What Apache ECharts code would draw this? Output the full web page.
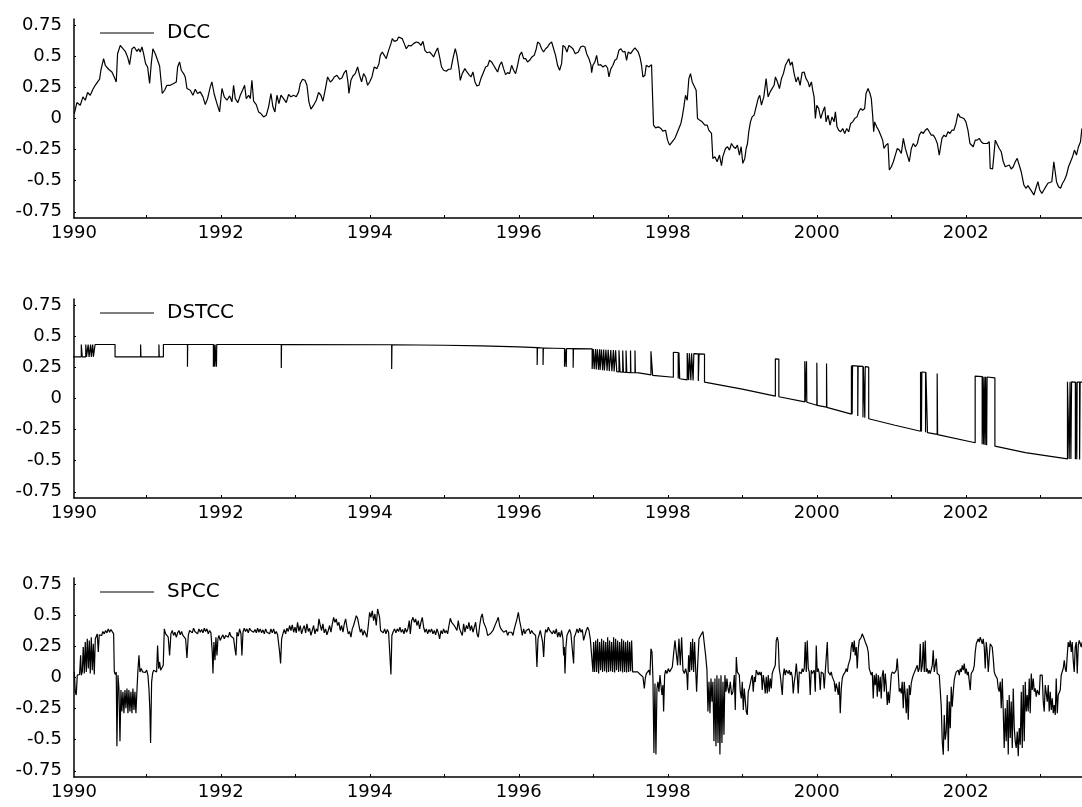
<!DOCTYPE html>
<html>
<head>
<meta charset="utf-8">
<script src="https://cdn.jsdelivr.net/npm/echarts@6/dist/echarts.min.js"></script>
<style>
  html, body { margin: 0; padding: 0; background: #fff; }
  #chart { width: 1082px; height: 807px; }
</style>
</head>
<body>
<div id="chart"></div>
<script>
// values: [year, correlation]
const dccPoints = [
  [1990.034,0.040],[1990.069,0.128],[1990.114,0.107],[1990.150,0.174],[1990.181,0.147],[1990.213,0.209],[1990.248,0.187],[1990.284,0.235],[1990.315,0.267],[1990.347,0.294],[1990.374,0.316],[1990.391,0.388],[1990.427,0.481],[1990.450,0.428],[1990.494,0.396],[1990.539,0.374],[1990.570,0.334],[1990.597,0.294],[1990.615,0.521],[1990.651,0.588],[1990.687,0.561],[1990.718,0.540],[1990.749,0.495],[1990.776,0.433],[1990.808,0.561],[1990.839,0.575],[1990.875,0.540],[1990.897,0.561],[1990.919,0.535],[1990.942,0.575],[1990.964,0.521],[1990.991,0.441],[1991.018,0.414],[1991.045,0.281],[1991.067,0.441],[1991.089,0.561],[1991.121,0.521],[1991.152,0.468],[1991.179,0.422],[1991.197,0.428],[1991.215,0.201],[1991.246,0.227],[1991.277,0.267],[1991.322,0.267],[1991.367,0.281],[1991.403,0.294],[1991.421,0.414],[1991.447,0.455],[1991.470,0.388],[1991.501,0.361],[1991.523,0.334],[1991.546,0.241],[1991.591,0.227],[1991.626,0.187],[1991.658,0.235],[1991.689,0.201],[1991.725,0.214],[1991.761,0.174],[1991.792,0.112],[1991.823,0.160],[1991.859,0.254],[1991.881,0.294],[1991.913,0.193],[1991.949,0.120],[1991.984,0.053],[1992.016,0.241],[1992.047,0.174],[1992.083,0.147],[1992.119,0.182],[1992.150,0.134],[1992.172,0.267],[1992.195,0.160],[1992.230,0.128],[1992.262,0.187],[1992.298,0.235],[1992.320,0.267],[1992.342,0.160],[1992.374,0.187],[1992.396,0.160],[1992.418,0.307],[1992.441,0.139],[1992.476,0.112],[1992.508,0.053],[1992.539,0.040],[1992.575,0.013],[1992.611,0.027],[1992.642,0.094],[1992.673,0.201],[1992.700,0.094],[1992.727,0.053],[1992.754,0.187],[1992.781,0.120],[1992.808,0.187],[1992.843,0.160],[1992.879,0.128],[1992.910,0.193],[1992.942,0.174],[1992.978,0.187],[1993.013,0.174],[1993.045,0.214],[1993.067,0.281],[1993.098,0.316],[1993.130,0.307],[1993.157,0.267],[1993.183,0.134],[1993.210,0.075],[1993.246,0.107],[1993.282,0.147],[1993.313,0.209],[1993.344,0.187],[1993.371,0.139],[1993.403,0.235],[1993.434,0.334],[1993.470,0.294],[1993.497,0.307],[1993.523,0.334],[1993.559,0.348],[1993.595,0.316],[1993.626,0.326],[1993.658,0.369],[1993.684,0.388],[1993.707,0.294],[1993.720,0.201],[1993.747,0.307],[1993.774,0.342],[1993.805,0.361],[1993.837,0.414],[1993.863,0.348],[1993.890,0.294],[1993.917,0.361],[1993.944,0.334],[1993.971,0.267],[1993.998,0.294],[1994.029,0.334],[1994.060,0.414],[1994.096,0.401],[1994.123,0.441],[1994.141,0.508],[1994.168,0.535],[1994.195,0.508],[1994.221,0.481],[1994.253,0.548],[1994.284,0.602],[1994.302,0.642],[1994.329,0.620],[1994.365,0.628],[1994.387,0.655],[1994.409,0.668],[1994.436,0.642],[1994.463,0.602],[1994.490,0.561],[1994.521,0.588],[1994.553,0.583],[1994.588,0.602],[1994.624,0.615],[1994.655,0.610],[1994.687,0.588],[1994.714,0.620],[1994.740,0.548],[1994.767,0.529],[1994.803,0.535],[1994.834,0.513],[1994.857,0.495],[1994.884,0.535],[1994.911,0.567],[1994.937,0.495],[1994.964,0.414],[1994.991,0.388],[1995.027,0.380],[1995.058,0.396],[1995.089,0.396],[1995.116,0.481],[1995.148,0.561],[1995.170,0.508],[1995.197,0.401],[1995.215,0.307],[1995.241,0.361],[1995.277,0.401],[1995.304,0.374],[1995.331,0.353],[1995.358,0.334],[1995.385,0.374],[1995.412,0.294],[1995.438,0.262],[1995.465,0.267],[1995.492,0.321],[1995.528,0.374],[1995.555,0.414],[1995.582,0.422],[1995.608,0.468],[1995.635,0.455],[1995.662,0.428],[1995.689,0.401],[1995.716,0.374],[1995.743,0.428],[1995.770,0.455],[1995.796,0.401],[1995.823,0.353],[1995.850,0.369],[1995.877,0.361],[1995.904,0.428],[1995.931,0.388],[1995.957,0.361],[1995.984,0.428],[1996.011,0.508],[1996.038,0.535],[1996.065,0.481],[1996.092,0.481],[1996.118,0.455],[1996.145,0.468],[1996.177,0.495],[1996.208,0.508],[1996.235,0.561],[1996.253,0.615],[1996.280,0.602],[1996.306,0.561],[1996.333,0.535],[1996.360,0.561],[1996.387,0.575],[1996.414,0.602],[1996.441,0.615],[1996.467,0.615],[1996.494,0.508],[1996.521,0.428],[1996.548,0.388],[1996.575,0.441],[1996.593,0.588],[1996.620,0.575],[1996.647,0.535],[1996.673,0.588],[1996.700,0.575],[1996.727,0.561],[1996.758,0.521],
  [1996.799,0.535],[1996.830,0.575],[1996.861,0.583],[1996.888,0.575],[1996.911,0.521],[1996.942,0.481],[1996.969,0.428],[1996.978,0.369],[1996.995,0.428],[1997.022,0.455],[1997.045,0.508],[1997.067,0.428],[1997.098,0.433],[1997.130,0.414],[1997.165,0.428],[1997.192,0.406],[1997.210,0.334],[1997.237,0.401],[1997.264,0.428],[1997.290,0.468],[1997.317,0.481],[1997.344,0.548],[1997.371,0.561],[1997.398,0.535],[1997.425,0.540],[1997.447,0.468],[1997.469,0.535],[1997.501,0.521],[1997.532,0.548],[1997.559,0.567],[1997.585,0.575],[1997.603,0.535],[1997.626,0.495],[1997.648,0.428],[1997.666,0.334],[1997.693,0.348],[1997.711,0.428],[1997.746,0.414],[1997.782,0.433],[1997.800,0.428],[1997.809,-0.053],[1997.836,-0.075],[1997.872,-0.067],[1997.907,-0.080],[1997.934,-0.102],[1997.970,-0.094],[1997.997,-0.174],[1998.024,-0.214],[1998.059,-0.187],[1998.095,-0.160],[1998.122,-0.120],[1998.149,-0.080],[1998.176,-0.040],[1998.194,0.013],[1998.216,0.094],[1998.238,0.187],[1998.261,0.147],[1998.283,0.321],[1998.305,0.361],[1998.328,0.294],[1998.350,0.281],[1998.381,0.227],[1998.399,0.000],[1998.426,-0.013],[1998.462,-0.027],[1998.497,-0.053],[1998.529,-0.053],[1998.551,-0.094],[1998.587,-0.120],[1998.605,-0.321],[1998.632,-0.307],[1998.663,-0.348],[1998.694,-0.294],[1998.721,-0.380],[1998.739,-0.307],[1998.775,-0.241],[1998.802,-0.227],[1998.828,-0.254],[1998.855,-0.201],[1998.882,-0.227],[1998.909,-0.241],[1998.935,-0.214],[1998.962,-0.294],[1998.985,-0.227],[1999.007,-0.361],[1999.034,-0.321],[1999.052,-0.241],[1999.070,-0.201],[1999.087,-0.107],[1999.110,-0.027],[1999.132,0.013],[1999.159,0.027],[1999.186,0.094],[1999.213,0.160],[1999.235,0.187],[1999.257,0.107],[1999.289,0.174],[1999.320,0.321],[1999.347,0.174],[1999.374,0.214],[1999.400,0.227],[1999.427,0.267],[1999.445,0.334],[1999.472,0.294],[1999.499,0.241],[1999.526,0.321],[1999.552,0.361],[1999.579,0.428],[1999.602,0.455],[1999.624,0.481],[1999.646,0.428],[1999.669,0.455],[1999.696,0.361],[1999.722,0.294],[1999.749,0.334],[1999.776,0.267],[1999.803,0.369],[1999.830,0.374],[1999.856,0.321],[1999.883,0.294],[1999.901,0.254],[1999.928,0.294],[1999.946,0.227],[1999.964,0.174],[1999.981,0.000],[2000.000,0.107],[2000.026,0.080],[2000.053,0.000],[2000.080,0.053],[2000.107,0.094],[2000.125,-0.027],[2000.151,0.027],[2000.178,-0.053],[2000.205,0.013],[2000.232,-0.027],[2000.250,0.053],[2000.272,-0.067],[2000.294,-0.094],[2000.321,-0.107],[2000.348,-0.080],[2000.375,-0.120],[2000.402,-0.080],[2000.428,-0.107],[2000.455,-0.040],[2000.482,-0.027],[2000.509,0.000],[2000.540,0.013],[2000.563,0.053],[2000.589,0.080],[2000.616,0.067],[2000.643,0.080],[2000.661,0.201],[2000.688,0.241],[2000.714,0.201],[2000.732,0.160],[2000.750,0.027],[2000.764,-0.107],[2000.777,-0.027],[2000.804,-0.067],[2000.831,-0.094],[2000.858,-0.134],[2000.884,-0.174],[2000.902,-0.241],[2000.929,-0.214],[2000.956,-0.201],[2000.974,-0.414],[2001.001,-0.388],[2001.028,-0.348],[2001.054,-0.294],[2001.081,-0.241],[2001.108,-0.254],[2001.135,-0.281],[2001.162,-0.160],[2001.189,-0.241],[2001.215,-0.294],[2001.242,-0.348],[2001.269,-0.241],[2001.296,-0.201],[2001.323,-0.227],[2001.350,-0.201],[2001.376,-0.134],[2001.403,-0.107],[2001.430,-0.120],[2001.457,-0.094],[2001.484,-0.080],[2001.510,-0.107],[2001.537,-0.134],[2001.564,-0.134],[2001.591,-0.160],[2001.618,-0.201],[2001.644,-0.294],[2001.662,-0.227],[2001.680,-0.160],[2001.707,-0.134],[2001.734,-0.147],[2001.761,-0.107],[2001.788,-0.120],[2001.814,-0.094],[2001.841,-0.094],[2001.868,-0.040],[2001.895,0.040],[2001.922,0.013],[2001.948,0.027],[2001.975,0.000],[2002.002,-0.027],[2002.029,-0.094],[2002.056,-0.201],[2002.074,-0.187],[2002.100,-0.227],[2002.127,-0.174],[2002.154,-0.174],[2002.181,-0.160],[2002.208,-0.187],[2002.235,-0.201],[2002.261,-0.187],[2002.288,-0.201],[2002.315,-0.187],[2002.328,-0.401],[2002.360,-0.406],[2002.378,-0.414],[2002.396,-0.174],[2002.422,-0.187],[2002.449,-0.241],[2002.476,-0.267],[2002.503,-0.348],[2002.530,-0.388],[2002.556,-0.401],[2002.583,-0.374],[2002.610,-0.406],[2002.637,-0.388],[2002.664,-0.348],[2002.690,-0.321],[2002.717,-0.374],[2002.744,-0.428],[2002.762,-0.481],[2002.780,-0.535],[2002.807,-0.561],[2002.834,-0.540],[2002.860,-0.535],[2002.887,-0.588],[2002.914,-0.615],[2002.941,-0.561],[2002.968,-0.508],[2002.994,-0.575],[2003.021,-0.602],[2003.048,-0.575],[2003.075,-0.548],[2003.102,-0.521],[2003.128,-0.535],[2003.155,-0.508],[2003.182,-0.348],[2003.200,-0.428],[2003.218,-0.508],[2003.245,-0.548],[2003.272,-0.561],[2003.299,-0.521],[2003.325,-0.495],[2003.352,-0.455],[2003.379,-0.388],[2003.406,-0.348],[2003.433,-0.307],[2003.459,-0.254],[2003.486,-0.294],[2003.513,-0.227],[2003.540,-0.187],[2003.558,-0.080]
];

// regime switching series: repeated years draw the vertical jumps
const dstccPoints = [
  [1990.000,0.335],[1990.128,0.335],[1990.128,0.434],[1990.140,0.434],[1990.140,0.335],[1990.188,0.335],[1990.188,0.434],[1990.198,0.434],[1990.198,0.335],[1990.220,0.335],[1990.220,0.434],[1990.232,0.434],[1990.232,0.335],[1990.253,0.335],[1990.253,0.434],[1990.262,0.434],[1990.262,0.335],[1990.281,0.335],[1990.281,0.434],[1990.290,0.434],[1990.290,0.335],[1990.313,0.335],[1990.313,0.434],[1990.581,0.434],[1990.581,0.335],[1990.924,0.335],[1990.924,0.434],[1990.928,0.434],[1990.928,0.335],[1991.170,0.335],[1991.170,0.434],[1991.174,0.434],[1991.174,0.335],[1991.230,0.335],[1991.230,0.434],
  [1991.553,0.434],[1991.553,0.255],[1991.556,0.434],
  [1991.901,0.434],[1991.901,0.255],[1991.905,0.434],[1991.919,0.434],[1991.919,0.255],[1991.923,0.434],[1991.942,0.434],[1991.942,0.255],[1991.946,0.434],
  [1992.812,0.434],[1992.812,0.246],[1992.816,0.434],
  [1994.294,0.432],[1994.294,0.238],[1994.298,0.432],
  [1995.000,0.428],[1995.500,0.423],[1996.000,0.415],
  [1996.247,0.409],[1996.247,0.270],[1996.251,0.409],
  [1996.326,0.406],[1996.326,0.270],[1996.330,0.406],
  [1996.614,0.402],[1996.614,0.255],[1996.620,0.255],[1996.620,0.402],[1996.637,0.402],[1996.637,0.254],[1996.641,0.402],
  [1996.730,0.401],[1996.730,0.247],[1996.734,0.401],
  [1996.985,0.399],[1996.985,0.238],[1997.000,0.237],[1997.000,0.398],[1997.012,0.398],[1997.012,0.236],[1997.030,0.235],[1997.030,0.397],[1997.040,0.397],[1997.040,0.234],[1997.055,0.233],[1997.055,0.396],[1997.070,0.396],[1997.070,0.232],[1997.085,0.231],[1997.085,0.395],[1997.092,0.395],[1997.092,0.230],[1997.110,0.229],[1997.110,0.394],[1997.125,0.394],[1997.125,0.228],[1997.140,0.227],[1997.140,0.393],[1997.150,0.393],[1997.150,0.226],[1997.170,0.225],[1997.170,0.392],[1997.185,0.392],[1997.185,0.224],[1997.200,0.223],[1997.200,0.391],[1997.215,0.391],[1997.215,0.222],[1997.235,0.221],[1997.235,0.390],[1997.250,0.390],[1997.250,0.220],[1997.270,0.219],[1997.270,0.389],[1997.280,0.389],[1997.280,0.218],[1997.300,0.217],[1997.300,0.388],[1997.315,0.388],[1997.315,0.216],[1997.345,0.214],[1997.345,0.387],[1997.360,0.387],[1997.360,0.213],[1997.395,0.212],[1997.395,0.386],[1997.405,0.386],[1997.405,0.211],[1997.440,0.210],[1997.440,0.386],[1997.450,0.386],[1997.450,0.209],[1997.500,0.208],[1997.500,0.385],[1997.505,0.385],[1997.505,0.207],[1997.560,0.207],[1997.560,0.385],[1997.565,0.385],[1997.565,0.207],[1997.611,0.206],
  [1997.774,0.190],[1997.774,0.380],[1997.797,0.380],[1997.797,0.186],
  [1998.075,0.171],[1998.075,0.372],[1998.140,0.370],[1998.140,0.160],[1998.150,0.160],[1998.150,0.370],[1998.160,0.369],[1998.160,0.159],[1998.261,0.150],[1998.261,0.366],[1998.280,0.365],[1998.280,0.148],[1998.290,0.148],[1998.290,0.364],[1998.310,0.364],[1998.310,0.146],[1998.320,0.146],[1998.320,0.363],[1998.340,0.362],[1998.340,0.144],[1998.350,0.144],[1998.350,0.361],[1998.410,0.359],[1998.410,0.140],[1998.420,0.140],[1998.420,0.359],[1998.493,0.356],[1998.493,0.131],
  [1999.000,0.075],
  [1999.444,0.019],[1999.444,0.319],[1999.491,0.317],[1999.491,0.014],
  [1999.839,-0.027],[1999.839,0.300],[1999.845,0.300],[1999.845,-0.028],[1999.862,-0.030],[1999.862,0.299],[1999.866,0.299],[1999.866,-0.030],
  [2000.001,-0.054],[2000.001,0.287],[2000.005,0.287],[2000.005,-0.055],
  [2000.131,-0.070],[2000.131,0.281],[2000.135,0.281],[2000.135,-0.071],
  [2000.465,-0.125],[2000.465,0.265],[2000.475,0.265],[2000.475,-0.127],[2000.480,-0.127],[2000.480,0.264],[2000.550,0.261],[2000.550,-0.140],[2000.555,-0.140],[2000.555,0.261],[2000.620,0.258],[2000.620,-0.150],[2000.625,-0.150],[2000.625,0.258],[2000.645,0.257],[2000.645,-0.155],[2000.650,-0.155],[2000.650,0.256],[2000.697,0.252],[2000.697,-0.163],
  [2001.050,-0.215],
  [2001.393,-0.263],[2001.393,0.214],[2001.405,0.213],[2001.405,-0.265],[2001.410,-0.265],[2001.410,0.213],[2001.460,0.211],[2001.460,-0.272],[2001.465,-0.272],[2001.465,0.211],[2001.486,0.210],[2001.486,-0.275],
  [2001.616,-0.289],[2001.616,0.201],[2001.622,0.201],[2001.622,-0.290],
  [2002.126,-0.356],[2002.126,0.180],[2002.220,0.176],[2002.220,-0.368],[2002.226,-0.368],[2002.226,0.176],[2002.240,0.175],[2002.240,-0.370],[2002.246,-0.370],[2002.246,0.175],[2002.260,0.174],[2002.260,-0.373],[2002.266,-0.373],[2002.266,0.174],[2002.280,0.173],[2002.280,-0.375],[2002.286,-0.375],[2002.286,0.173],[2002.391,0.166],[2002.391,-0.383],
  [2002.800,-0.435],
  [2003.365,-0.485],[2003.365,0.134],[2003.388,0.134],[2003.388,-0.486],[2003.400,-0.486],[2003.400,0.134],[2003.411,0.134],[2003.411,-0.487],[2003.420,-0.487],[2003.420,0.133],[2003.471,0.132],[2003.471,-0.488],[2003.476,-0.488],[2003.476,0.132],[2003.490,0.132],[2003.490,-0.489],[2003.495,-0.489],[2003.495,0.132],[2003.528,0.131],[2003.528,-0.490],[2003.535,-0.490],[2003.535,0.131],[2003.565,0.131]
];

const spccPoints = [
  [1990.034,0.045],[1990.047,-0.114],[1990.060,-0.141],[1990.074,0.019],[1990.092,0.032],[1990.105,0.024],[1990.119,0.178],[1990.128,0.019],[1990.141,0.045],[1990.154,0.245],[1990.168,0.032],[1990.181,0.285],[1990.195,0.045],[1990.208,0.311],[1990.222,0.072],[1990.235,0.298],[1990.248,0.032],[1990.262,0.324],[1990.275,0.059],[1990.289,0.271],[1990.302,0.024],[1990.316,0.311],[1990.329,0.324],[1990.342,0.351],[1990.356,0.205],[1990.369,0.343],[1990.383,0.359],[1990.401,0.338],[1990.418,0.370],[1990.436,0.351],[1990.454,0.378],[1990.472,0.359],[1990.490,0.391],[1990.508,0.364],[1990.526,0.386],[1990.544,0.370],[1990.562,0.351],[1990.571,0.045],[1990.584,0.024],[1990.597,0.045],[1990.606,-0.553],[1990.620,0.019],[1990.633,-0.088],[1990.647,-0.513],[1990.660,-0.101],[1990.673,-0.274],[1990.687,-0.114],[1990.700,-0.287],[1990.714,-0.101],[1990.727,-0.247],[1990.741,-0.088],[1990.754,-0.287],[1990.767,-0.101],[1990.781,-0.274],[1990.794,-0.114],[1990.808,-0.287],[1990.821,-0.088],[1990.835,-0.261],[1990.848,-0.114],[1990.861,-0.287],[1990.875,-0.101],[1990.888,0.059],[1990.902,0.178],[1990.915,0.045],[1990.933,0.072],[1990.951,0.045],[1990.969,0.059],[1990.987,0.040],[1991.005,0.059],[1991.022,0.019],[1991.036,-0.088],[1991.049,-0.274],[1991.058,-0.527],[1991.072,-0.035],[1991.085,0.032],[1991.099,0.059],[1991.112,0.045],[1991.125,0.072],[1991.139,0.045],[1991.152,0.258],[1991.166,0.072],[1991.179,0.125],[1991.193,0.059],[1991.210,0.045],[1991.228,0.098],[1991.242,0.391],[1991.260,0.351],[1991.278,0.364],[1991.295,0.324],[1991.313,0.178],[1991.331,0.351],[1991.349,0.378],[1991.367,0.338],[1991.385,0.364],[1991.403,0.324],[1991.421,0.359],[1991.439,0.378],[1991.456,0.343],[1991.474,0.370],[1991.492,0.338],[1991.510,0.351],[1991.528,0.311],[1991.546,0.157],[1991.564,0.338],[1991.582,0.378],[1991.600,0.391],[1991.618,0.359],[1991.635,0.396],[1991.653,0.370],[1991.671,0.386],[1991.689,0.351],[1991.707,0.391],[1991.725,0.364],[1991.743,0.386],[1991.761,0.359],[1991.779,0.396],[1991.796,0.370],[1991.814,0.391],[1991.832,0.351],[1991.850,0.378],[1991.868,0.359],[1991.886,0.205],[1991.895,0.032],[1991.908,0.285],[1991.922,0.138],[1991.935,0.324],[1991.949,0.178],[1991.962,0.311],[1991.975,0.338],[1991.993,0.298],[1992.011,0.324],[1992.029,0.343],[1992.047,0.311],[1992.065,0.338],[1992.083,0.351],[1992.101,0.324],[1992.119,0.364],[1992.137,0.332],[1992.154,0.343],[1992.172,0.316],[1992.190,0.231],[1992.204,0.178],[1992.217,0.364],[1992.235,0.332],[1992.253,0.391],[1992.271,0.351],[1992.284,0.178],[1992.298,0.364],[1992.315,0.396],[1992.333,0.370],[1992.351,0.391],[1992.369,0.359],[1992.387,0.396],[1992.405,0.378],[1992.423,0.391],[1992.441,0.364],[1992.459,0.386],[1992.477,0.359],[1992.494,0.396],[1992.512,0.364],[1992.530,0.391],[1992.548,0.359],[1992.566,0.383],[1992.584,0.351],[1992.602,0.391],[1992.620,0.364],[1992.638,0.378],[1992.656,0.351],[1992.673,0.391],[1992.691,0.359],[1992.709,0.391],[1992.727,0.351],[1992.745,0.370],[1992.763,0.343],[1992.781,0.338],[1992.790,0.205],[1992.803,0.112],[1992.817,0.311],[1992.834,0.351],[1992.852,0.386],[1992.870,0.351],[1992.888,0.396],[1992.906,0.370],[1992.924,0.418],[1992.942,0.378],[1992.960,0.423],[1992.978,0.364],[1992.996,0.404],[1993.013,0.359],[1993.031,0.444],[1993.049,0.370],[1993.067,0.418],[1993.085,0.351],[1993.103,0.391],[1993.121,0.418],[1993.139,0.359],[1993.157,0.431],[1993.175,0.370],[1993.192,0.396],[1993.210,0.338],[1993.228,0.378],[1993.246,0.418],[1993.264,0.351],[1993.282,0.391],[1993.300,0.370],[1993.318,0.471],[1993.336,0.418],[1993.353,0.378],[1993.371,0.431],[1993.389,0.359],[1993.407,0.391],[1993.425,0.343],[1993.443,0.378],[1993.461,0.418],[1993.479,0.364],[1993.497,0.431],[1993.515,0.484],[1993.532,0.444],[1993.550,0.471],[1993.568,0.418],[1993.586,0.444],[1993.604,0.378],[1993.622,0.418],[1993.640,0.364],[1993.658,0.431],[1993.676,0.471],[1993.694,0.404],[1993.711,0.351],[1993.729,0.370],[1993.747,0.324],[1993.765,0.391],[1993.783,0.418],[1993.801,0.457],[1993.819,0.497],[1993.837,0.476],[1993.855,0.418],[1993.873,0.364],[1993.890,0.391],[1993.908,0.338],[1993.926,0.378],[1993.944,0.351],[1993.962,0.324],[1993.980,0.418],[1993.998,0.524],[1994.016,0.484],[1994.034,0.537],[1994.051,0.457],[1994.069,0.511],[1994.087,0.418],[1994.105,0.551],[1994.119,0.564],[1994.132,0.484],[1994.145,0.378],[1994.163,0.391],[1994.181,0.359],[1994.199,0.391],[1994.217,0.351],[1994.235,0.386],[1994.253,0.364],[1994.271,0.351],[1994.284,0.024],[1994.297,0.338],[1994.315,0.370],[1994.333,0.391],[1994.351,0.359],[1994.369,0.391],[1994.387,0.370],[1994.405,0.404],[1994.423,0.364],[1994.441,0.386],[1994.459,0.351],[1994.476,0.396],[1994.494,0.364],[1994.512,0.391],[1994.530,0.457],
  [1994.544,0.351],[1994.562,0.457],[1994.580,0.484],[1994.598,0.444],[1994.616,0.471],[1994.633,0.418],[1994.651,0.457],[1994.669,0.391],[1994.687,0.444],[1994.705,0.484],[1994.723,0.404],[1994.741,0.364],[1994.759,0.391],[1994.777,0.351],[1994.795,0.386],[1994.812,0.364],[1994.830,0.391],[1994.848,0.351],[1994.866,0.378],[1994.884,0.343],[1994.902,0.391],[1994.920,0.359],[1994.938,0.311],[1994.956,0.378],[1994.974,0.351],[1994.991,0.391],[1995.009,0.359],[1995.027,0.378],[1995.045,0.351],[1995.063,0.418],[1995.081,0.476],[1995.099,0.444],[1995.117,0.457],[1995.135,0.418],[1995.152,0.431],[1995.170,0.378],[1995.188,0.457],[1995.206,0.391],[1995.224,0.404],[1995.242,0.338],[1995.260,0.431],[1995.278,0.364],[1995.296,0.418],[1995.314,0.391],[1995.331,0.444],[1995.349,0.378],[1995.367,0.418],[1995.385,0.364],[1995.403,0.404],[1995.421,0.444],[1995.439,0.351],[1995.457,0.324],[1995.475,0.418],[1995.493,0.484],[1995.510,0.511],[1995.528,0.444],[1995.546,0.431],[1995.564,0.391],[1995.582,0.338],[1995.600,0.324],[1995.618,0.351],[1995.636,0.338],[1995.654,0.378],[1995.671,0.404],[1995.689,0.431],[1995.707,0.457],[1995.725,0.484],[1995.743,0.418],[1995.761,0.391],[1995.779,0.378],[1995.797,0.364],[1995.815,0.351],[1995.833,0.378],[1995.850,0.338],[1995.868,0.364],[1995.886,0.351],[1995.904,0.364],[1995.922,0.338],[1995.940,0.391],[1995.958,0.431],[1995.976,0.471],[1995.994,0.524],[1996.011,0.457],[1996.029,0.404],[1996.047,0.338],[1996.065,0.391],[1996.083,0.351],[1996.101,0.378],[1996.119,0.364],[1996.137,0.391],[1996.155,0.351],[1996.173,0.378],[1996.190,0.359],[1996.208,0.364],[1996.226,0.338],[1996.235,0.324],[1996.244,0.085],[1996.258,0.311],[1996.271,0.324],[1996.289,0.378],[1996.307,0.324],[1996.320,0.285],[1996.334,0.165],[1996.347,0.324],[1996.360,0.386],[1996.378,0.364],[1996.396,0.404],[1996.414,0.378],[1996.432,0.391],[1996.450,0.351],[1996.468,0.378],[1996.486,0.351],[1996.504,0.391],[1996.522,0.324],[1996.539,0.364],[1996.557,0.324],[1996.575,0.378],[1996.593,0.311],[1996.602,0.178],[1996.611,0.245],[1996.620,0.032],[1996.633,0.245],[1996.647,0.338],[1996.665,0.364],[1996.683,0.386],[1996.700,0.351],[1996.718,0.364],[1996.736,0.112],[1996.745,0.324],[1996.763,0.351],[1996.781,0.391],[1996.799,0.359],[1996.817,0.396],[1996.835,0.364],[1996.853,0.386],[1996.870,0.298],[1996.888,0.338],[1996.906,0.378],[1996.924,0.404],[1996.942,0.378],[1996.960,0.311],[1996.978,0.298],[1996.996,0.045],[1997.005,0.285],[1997.018,0.045],[1997.032,0.298],[1997.045,0.045],[1997.058,0.311],[1997.072,0.032],[1997.085,0.285],[1997.099,0.059],[1997.112,0.311],[1997.125,0.045],[1997.139,0.298],[1997.152,0.051],[1997.166,0.285],[1997.179,0.040],[1997.193,0.324],[1997.206,0.045],[1997.219,0.298],[1997.233,0.051],[1997.246,0.285],[1997.260,0.045],[1997.273,0.324],[1997.287,0.040],[1997.300,0.311],[1997.313,0.059],[1997.327,0.298],[1997.340,0.045],[1997.354,0.285],[1997.367,0.051],[1997.381,0.311],[1997.394,0.040],[1997.407,0.298],[1997.421,0.045],[1997.434,0.285],[1997.448,0.040],[1997.461,0.298],[1997.475,0.045],[1997.488,0.285],[1997.501,0.051],[1997.515,0.298],[1997.528,0.045],[1997.542,0.059],[1997.560,0.045],[1997.577,0.032],[1997.595,0.045],[1997.613,0.040],[1997.631,0.024],[1997.649,0.019],[1997.667,0.005],[1997.685,-0.088],[1997.698,-0.008],[1997.712,0.032],[1997.729,0.045],[1997.747,0.059],[1997.761,0.019],[1997.774,0.231],[1997.788,0.205],[1997.801,-0.008],[1997.814,-0.606],[1997.828,-0.048],[1997.841,-0.620],[1997.855,-0.088],[1997.868,-0.035],[1997.882,-0.114],[1997.895,0.019],[1997.908,-0.061],[1997.922,-0.141],[1997.935,-0.061],[1997.944,-0.274],[1997.958,0.019],[1997.971,0.059],[1997.989,0.032],[1998.007,0.072],[1998.025,0.045],[1998.043,0.059],[1998.061,0.085],[1998.078,0.072],[1998.096,0.298],[1998.114,0.285],[1998.132,0.098],[1998.150,0.311],[1998.168,0.098],[1998.186,0.324],[1998.204,0.059],[1998.222,0.032],[1998.240,0.072],[1998.257,0.019],[1998.266,-0.101],[1998.280,0.178],[1998.293,0.045],[1998.307,0.285],[1998.320,0.059],[1998.333,0.311],[1998.347,0.045],[1998.360,0.285],[1998.374,0.072],[1998.387,-0.114],[1998.401,0.098],[1998.419,0.311],[1998.436,0.324],[1998.454,0.351],[1998.472,0.370],[1998.490,0.378],[1998.508,0.178],[1998.526,0.059],[1998.539,-0.274],[1998.553,-0.035],[1998.566,-0.287],[1998.580,-0.008],[1998.593,-0.194],[1998.606,-0.035],[1998.620,-0.513],[1998.633,-0.008],[1998.647,-0.553],[1998.660,0.019],[1998.674,-0.527],[1998.687,-0.008],[1998.700,-0.620],[1998.714,0.019],[1998.727,-0.527],[1998.741,-0.035],[1998.754,-0.460],[1998.767,0.019],[1998.781,-0.114],[1998.794,-0.008],[1998.808,-0.088],[1998.821,-0.128],[1998.839,-0.035],[1998.857,-0.141],[1998.875,-0.114],[1998.893,0.019],[1998.906,-0.261],[1998.920,0.165],[1998.933,0.045],[1998.946,0.059],[1998.960,0.019],[1998.973,-0.114],[1998.987,-0.168],[1999.000,-0.035],[1999.014,-0.261],[1999.027,-0.088],
  [1999.040,-0.101],[1999.053,-0.274],[1999.067,-0.301],[1999.080,-0.114],[1999.094,-0.088],[1999.107,-0.101],[1999.121,-0.008],[1999.134,0.019],[1999.147,-0.114],[1999.161,0.005],[1999.174,-0.035],[1999.188,0.059],[1999.201,0.072],[1999.214,0.019],[1999.228,0.045],[1999.241,0.019],[1999.255,0.045],[1999.268,-0.101],[1999.282,0.019],[1999.295,-0.035],[1999.308,-0.128],[1999.322,0.005],[1999.335,-0.128],[1999.349,0.019],[1999.362,-0.114],[1999.376,-0.008],[1999.389,-0.088],[1999.402,0.032],[1999.416,0.059],[1999.429,0.045],[1999.443,0.098],[1999.456,0.298],[1999.470,0.324],[1999.483,0.285],[1999.496,0.072],[1999.510,0.019],[1999.523,0.032],[1999.537,-0.141],[1999.550,0.019],[1999.563,0.072],[1999.577,0.019],[1999.590,0.059],[1999.604,0.045],[1999.617,0.032],[1999.631,0.059],[1999.644,0.019],[1999.657,0.045],[1999.671,0.005],[1999.684,-0.128],[1999.698,-0.035],[1999.711,0.019],[1999.725,0.112],[1999.738,0.019],[1999.751,-0.128],[1999.765,0.045],[1999.778,0.059],[1999.792,0.032],[1999.805,0.072],[1999.818,0.045],[1999.832,0.072],[1999.845,0.285],[1999.859,0.045],[1999.872,0.298],[1999.886,0.072],[1999.899,0.045],[1999.912,-0.141],[1999.926,0.059],[1999.939,0.032],[1999.953,0.045],[1999.966,0.059],[1999.980,-0.114],[1999.993,0.258],[2000.006,0.045],[2000.020,0.072],[2000.033,0.032],[2000.047,-0.101],[2000.060,0.045],[2000.074,0.059],[2000.087,0.032],[2000.100,-0.088],[2000.114,0.045],[2000.127,0.059],[2000.141,0.285],[2000.154,0.045],[2000.167,0.059],[2000.181,0.019],[2000.194,0.045],[2000.208,0.005],[2000.221,0.019],[2000.235,-0.035],[2000.248,-0.114],[2000.261,-0.048],[2000.275,-0.088],[2000.288,-0.141],[2000.302,-0.035],[2000.315,-0.287],[2000.329,-0.088],[2000.342,-0.008],[2000.355,0.019],[2000.369,0.032],[2000.382,0.045],[2000.396,0.072],[2000.409,0.045],[2000.422,0.098],[2000.436,0.085],[2000.449,0.152],[2000.463,0.245],[2000.476,0.285],[2000.490,0.205],[2000.503,0.298],[2000.516,0.178],[2000.530,0.245],[2000.543,0.072],[2000.557,0.231],[2000.570,0.298],[2000.584,0.311],[2000.597,0.324],[2000.610,0.351],[2000.624,0.338],[2000.637,0.311],[2000.651,0.285],[2000.664,0.298],[2000.677,0.245],[2000.691,0.205],[2000.704,0.072],[2000.718,0.045],[2000.731,0.019],[2000.745,0.045],[2000.758,-0.168],[2000.771,0.019],[2000.785,-0.061],[2000.798,0.032],[2000.812,-0.154],[2000.825,0.019],[2000.839,-0.114],[2000.852,0.005],[2000.865,-0.168],[2000.879,0.019],[2000.892,0.059],[2000.906,-0.114],[2000.919,0.032],[2000.932,-0.061],[2000.946,-0.221],[2000.959,-0.114],[2000.973,-0.207],[2000.986,-0.101],[2001.000,0.019],[2001.013,0.045],[2001.026,0.059],[2001.040,0.032],[2001.053,0.045],[2001.067,0.059],[2001.080,0.152],[2001.094,0.032],[2001.107,-0.114],[2001.120,-0.088],[2001.134,-0.128],[2001.147,-0.035],[2001.161,-0.247],[2001.174,-0.035],[2001.188,-0.141],[2001.201,-0.287],[2001.214,-0.088],[2001.228,-0.340],[2001.241,-0.061],[2001.255,-0.141],[2001.268,-0.048],[2001.282,-0.008],[2001.295,0.019],[2001.308,0.032],[2001.322,0.059],[2001.335,0.045],[2001.349,0.098],[2001.362,0.045],[2001.376,0.072],[2001.389,0.271],[2001.402,0.045],[2001.416,0.098],[2001.429,0.285],[2001.443,0.045],[2001.456,0.298],[2001.469,0.045],[2001.483,0.072],[2001.496,0.032],[2001.510,0.059],[2001.523,0.032],[2001.537,0.045],[2001.550,0.098],[2001.563,0.218],[2001.577,0.045],[2001.590,0.059],[2001.604,0.152],[2001.617,0.032],[2001.630,0.045],[2001.644,0.019],[2001.657,-0.101],[2001.671,-0.234],[2001.684,-0.513],[2001.698,-0.620],[2001.711,-0.301],[2001.724,-0.500],[2001.738,-0.434],[2001.751,-0.141],[2001.765,-0.593],[2001.778,-0.194],[2001.792,-0.407],[2001.805,-0.074],[2001.818,-0.234],[2001.832,-0.114],[2001.845,-0.021],[2001.859,0.019],[2001.872,0.045],[2001.886,0.032],[2001.899,0.059],[2001.912,0.019],[2001.926,0.072],[2001.939,0.045],[2001.953,0.098],[2001.966,0.059],[2001.980,0.112],[2001.993,0.032],[2002.006,0.072],[2002.020,0.019],[2002.033,0.045],[2002.047,0.059],[2002.060,-0.101],[2002.073,0.032],[2002.087,0.045],[2002.100,0.059],[2002.114,0.098],[2002.127,0.205],[2002.141,0.271],[2002.154,0.285],[2002.167,0.311],[2002.181,0.285],[2002.194,0.324],[2002.208,0.298],[2002.221,0.271],[2002.234,0.311],[2002.248,0.245],[2002.261,0.072],[2002.275,0.285],[2002.288,0.205],[2002.302,0.045],[2002.315,0.165],[2002.328,0.271],[2002.342,0.285],[2002.355,0.245],[2002.369,0.152],[2002.382,0.045],[2002.396,0.019],[2002.409,0.005],[2002.422,-0.008],[2002.436,-0.088],[2002.449,-0.114],[2002.463,-0.035],[2002.476,-0.247],[2002.490,-0.008],[2002.503,-0.274],[2002.516,-0.566],[2002.530,-0.247],[2002.543,-0.513],[2002.557,-0.181],[2002.570,-0.620],[2002.583,-0.141],[2002.597,-0.487],[2002.610,-0.194],[2002.624,-0.566],[2002.637,-0.088],[2002.651,-0.407],[2002.664,-0.513],[2002.677,-0.566],[2002.691,-0.434],[2002.704,-0.633],[2002.718,-0.407],[2002.731,-0.540],[2002.745,-0.114],[2002.758,-0.566],[2002.771,-0.061],[2002.785,-0.513],[2002.798,-0.035],[2002.812,-0.274],[2002.825,-0.141],[2002.838,-0.274],[2002.852,-0.008],[2002.865,-0.287],[2002.879,0.032],[2002.892,-0.101],[2002.906,-0.008],[2002.919,-0.114],[2002.932,-0.088],[2002.946,-0.154],[2002.959,-0.101],[2002.973,-0.114],[2002.986,-0.141],[2002.999,0.019],[2003.013,0.005],[2003.026,0.019],[2003.040,-0.194],[2003.053,-0.274],[2003.067,-0.061],[2003.080,-0.061],[2003.094,-0.194],[2003.107,-0.061],[2003.120,-0.274],[2003.134,-0.114],[2003.147,-0.261],[2003.161,-0.168],[2003.174,-0.287],[2003.187,-0.221],[2003.201,-0.301],[2003.214,-0.008],[2003.228,-0.287],[2003.241,-0.141],[2003.255,-0.128],[2003.268,-0.101],[2003.281,0.019],[2003.295,0.032],[2003.308,0.072],[2003.322,0.138],[2003.335,0.072],[2003.348,0.045],[2003.362,0.178],[2003.375,0.285],[2003.389,0.245],[2003.402,0.298],[2003.416,0.205],[2003.429,0.285],[2003.442,0.138],[2003.456,0.045],[2003.469,0.245],[2003.483,0.285],[2003.496,0.032],[2003.510,0.258],[2003.523,0.298],[2003.536,0.285],[2003.550,0.245],[2003.563,0.285]
];

const seriesNames = ['DCC', 'DSTCC', 'SPCC'];
const yTicks = [-0.75, -0.5, -0.25, 0, 0.25, 0.5, 0.75];
const yearTicks = [1991, 1992, 1993, 1994, 1995, 1996, 1997, 1998, 1999, 2000, 2001, 2002, 2003];
const yearLabels = [1990.03, 1992, 1994, 1996, 1998, 2000, 2002];

const chart = echarts.init(document.getElementById('chart'), null, { renderer: 'canvas' });

const FONT = 'DejaVu Sans';
const panelTops = [19, 299, 578];
const panelData = [dccPoints, dstccPoints, spccPoints];

const option = {
  animation: false,
  backgroundColor: '#fff',
  grid: panelTops.map(top => ({ left: 74, right: 0, top, height: 199 })),
  legend: panelTops.map((top, i) => ({
    data: [seriesNames[i]],
    left: 100,
    top: top + 4,
    padding: 0,
    icon: 'rect',
    itemWidth: 54,
    itemHeight: 1,
    selectedMode: false,
    textStyle: { fontFamily: FONT, fontSize: 20, color: '#000', padding: [0, 0, 0, 8] },
  })),
  xAxis: panelTops.map((_, i) => ({
    type: 'value',
    gridIndex: i,
    min: 1990.03,
    max: 2003.56,
    axisLine: { onZero: false, lineStyle: { color: '#000', width: 1.5 } },
    axisTick: { inside: true, length: 3, customValues: yearTicks, lineStyle: { color: '#000' } },
    axisLabel: {
      customValues: yearLabels,
      formatter: v => String(Math.round(v)),
      fontFamily: FONT, fontSize: 18, color: '#000', margin: 6,
    },
    splitLine: { show: false },
  })),
  yAxis: panelTops.map((_, i) => ({
    type: 'value',
    gridIndex: i,
    min: -0.8,
    max: 0.8,
    axisLine: { show: true, onZero: false, lineStyle: { color: '#000', width: 1.5 } },
    axisTick: { show: true, inside: true, length: 2, customValues: yTicks, lineStyle: { color: '#000' } },
    axisLabel: { customValues: yTicks, fontFamily: FONT, fontSize: 18, color: '#000', margin: 12 },
    splitLine: { show: false },
  })),
  series: panelData.map((data, i) => ({
    name: seriesNames[i],
    type: 'line',
    xAxisIndex: i,
    yAxisIndex: i,
    data,
    symbol: 'none',
    lineStyle: { color: '#000', width: 1.2 },
    itemStyle: { color: '#000' },
  })),
};

chart.setOption(option);
</script>
</body>
</html>
